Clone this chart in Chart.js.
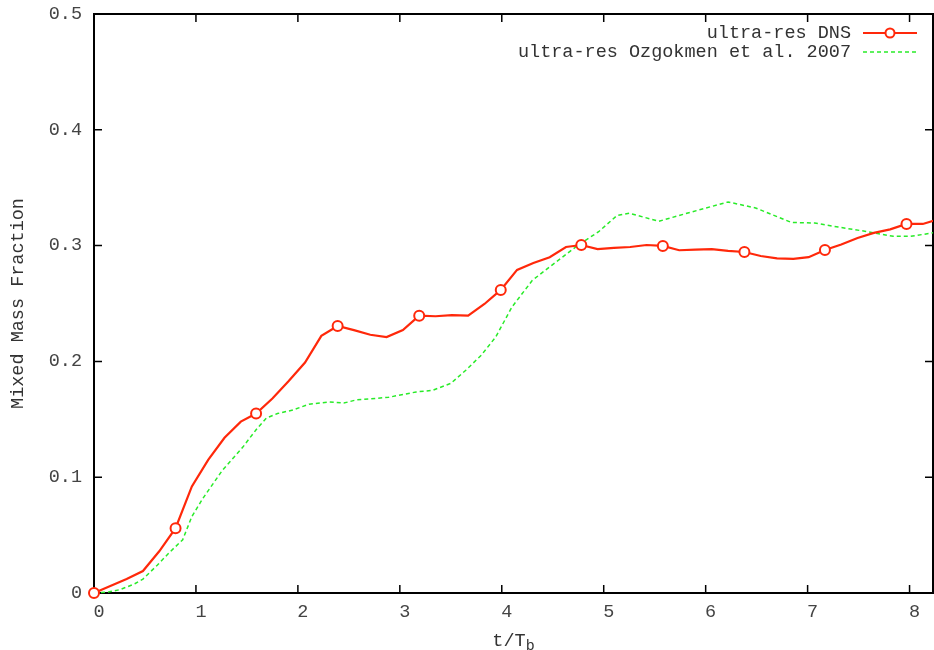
<!DOCTYPE html>
<html><head><meta charset="utf-8">
<script src="https://cdn.jsdelivr.net/npm/chart.js@4.4.0/dist/chart.umd.min.js"></script>
<style>
html,body{margin:0;padding:0;background:#fff;overflow:hidden;width:934px;height:650px}
#wrap{width:940px;height:650px}
canvas{display:block}
</style></head>
<body><div id="wrap"><canvas id="c" width="940" height="650"></canvas></div>
<script>
// ---- data ----
const dnsT = [0,0.16,0.32,0.48,0.64,0.80,0.96,1.12,1.28,1.44,1.59,1.75,1.91,2.07,2.23,2.39,2.55,2.71,2.87,3.03,3.19,3.35,3.51,3.67,3.83,3.99,4.15,4.31,4.47,4.63,4.78,4.94,5.10,5.26,5.42,5.58,5.74,5.90,6.06,6.22,6.38,6.54,6.70,6.86,7.01,7.17,7.33,7.49,7.65,7.81,7.97,8.13,8.29];
const dnsV = [0,0.006,0.012,0.019,0.036,0.056,0.092,0.115,0.134,0.148,0.155,0.168,0.183,0.199,0.222,0.2306,0.227,0.223,0.221,0.227,0.2395,0.239,0.240,0.2395,0.2496,0.2617,0.279,0.285,0.290,0.2988,0.3005,0.297,0.298,0.2988,0.3005,0.2997,0.296,0.2965,0.297,0.2955,0.2945,0.291,0.289,0.2885,0.290,0.2962,0.301,0.3066,0.311,0.314,0.3187,0.3187,0.323];
const ozgT = [0,0.15,0.26,0.40,0.48,0.62,0.74,0.87,0.96,1.07,1.26,1.46,1.59,1.69,1.80,1.95,2.11,2.31,2.45,2.57,2.89,3.16,3.32,3.50,3.65,3.80,3.94,4.10,4.30,4.49,4.75,4.95,5.13,5.25,5.54,5.86,6.22,6.49,6.84,7.07,7.30,7.59,7.84,8.01,8.23];
const ozgV = [0,0.001,0.003,0.008,0.012,0.024,0.035,0.046,0.066,0.082,0.106,0.126,0.141,0.151,0.155,0.158,0.163,0.165,0.164,0.1667,0.169,0.1736,0.175,0.181,0.1926,0.2055,0.221,0.247,0.270,0.283,0.3005,0.312,0.326,0.328,0.321,0.329,0.3377,0.3325,0.320,0.3195,0.316,0.312,0.308,0.308,0.311];
const xTicks = [0,1,2,3,4,5,6,7,8];
const yTicks = [0,0.1,0.2,0.3,0.4,0.5];
const seriesNames = ['ultra-res DNS','ultra-res Ozgokmen et al. 2007'];
const yTitle = 'Mixed Mass Fraction';
const xTitleMain = 't/T';
const xTitleSub = 'b';

const RED = 'rgb(255,40,10)';
const GREEN = 'rgb(40,235,40)';
const FONT = '"Liberation Mono", "DejaVu Sans Mono", monospace';

const toXY = (t, v) => t.map((x, i) => ({x: x, y: v[i]}));
const noPad = s => { s.paddingTop = 0; s.paddingBottom = 0; s.paddingLeft = 0; s.paddingRight = 0; };

const framePlugin = {
  id: 'frame',
  beforeDatasetsDraw(chart) {
    const {ctx, chartArea: a, scales: {x, y}} = chart;
    ctx.save();
    ctx.strokeStyle = '#000';
    ctx.lineWidth = 2;
    ctx.strokeRect(a.left, a.top, a.right - a.left, a.bottom - a.top);
    ctx.lineWidth = 1.5;
    ctx.beginPath();
    xTicks.forEach(v => {
      const px = x.getPixelForValue(v);
      ctx.moveTo(px, a.bottom); ctx.lineTo(px, a.bottom - 8);
      ctx.moveTo(px, a.top); ctx.lineTo(px, a.top + 8);
    });
    yTicks.forEach(v => {
      const py = y.getPixelForValue(v);
      ctx.moveTo(a.left, py); ctx.lineTo(a.left + 8, py);
      ctx.moveTo(a.right, py); ctx.lineTo(a.right - 8, py);
    });
    ctx.stroke();
    ctx.restore();
  },
  afterDraw(chart) {
    const {ctx, chartArea: a} = chart;
    ctx.save();
    // x title with subscript
    ctx.fillStyle = '#333';
    ctx.font = '18.5px ' + FONT;
    const w1 = ctx.measureText(xTitleMain).width;
    ctx.font = '15px ' + FONT;
    const w2 = ctx.measureText(xTitleSub).width;
    const cx = (a.left + a.right) / 2;
    const sx = cx - (w1 + w2) / 2;
    ctx.textAlign = 'left';
    ctx.textBaseline = 'alphabetic';
    ctx.font = '18.5px ' + FONT;
    ctx.fillText(xTitleMain, sx, 646);
    ctx.font = '15px ' + FONT;
    ctx.fillText(xTitleSub, sx + w1, 650);
    // legend
    ctx.font = '18.5px ' + FONT;
    ctx.textAlign = 'right';
    ctx.textBaseline = 'middle';
    ctx.fillText(seriesNames[0], 851, 33);
    ctx.fillText(seriesNames[1], 851, 52);
    ctx.strokeStyle = RED; ctx.lineWidth = 2.2;
    ctx.beginPath(); ctx.moveTo(863, 33); ctx.lineTo(917, 33); ctx.stroke();
    ctx.fillStyle = '#fff'; ctx.lineWidth = 2;
    ctx.beginPath(); ctx.arc(890, 33, 4.5, 0, Math.PI * 2); ctx.fill(); ctx.stroke();
    ctx.strokeStyle = GREEN; ctx.lineWidth = 1.5; ctx.setLineDash([4, 3]);
    ctx.beginPath(); ctx.moveTo(863, 52); ctx.lineTo(917, 52); ctx.stroke();
    ctx.restore();
  }
};

new Chart(document.getElementById('c'), {
  type: 'line',
  data: {
    datasets: [
      {
        label: seriesNames[0],
        data: toXY(dnsT, dnsV),
        borderColor: RED,
        borderWidth: 2.2,
        pointRadius: c => (c.dataIndex % 5 === 0 ? 5 : 0),
        pointHoverRadius: 0,
        pointBorderColor: RED,
        pointBackgroundColor: '#fff',
        pointBorderWidth: 2,
        tension: 0,
        clip: {left: 8, bottom: 8, top: 0, right: 0},
        order: 1
      },
      {
        label: seriesNames[1],
        data: toXY(ozgT, ozgV),
        borderColor: GREEN,
        borderWidth: 1.5,
        borderDash: [4, 3],
        pointRadius: 0,
        tension: 0,
        clip: {left: 4, bottom: 4, top: 0, right: 0},
        order: 2
      }
    ]
  },
  options: {
    responsive: false,
    animation: false,
    devicePixelRatio: 1,
    layout: {padding: {top: 14, right: 1, left: 0, bottom: 0}},
    plugins: {legend: {display: false}, tooltip: {enabled: false}},
    events: [],
    scales: {
      x: {
        type: 'linear',
        min: 0, max: 8.23,
        afterBuildTicks: s => { s.ticks = xTicks.map(v => ({value: v})); },
        afterFit: s => { s.height = 57; noPad(s); },
        grid: {display: false, drawTicks: false},
        border: {display: false},
        ticks: {
          font: {family: FONT, size: 18.5},
          color: '#444',
          labelOffset: 5,
          padding: 8,
          maxRotation: 0,
          autoSkip: false,
          callback: v => String(v)
        }
      },
      y: {
        type: 'linear',
        min: 0, max: 0.5,
        afterBuildTicks: s => { s.ticks = yTicks.map(v => ({value: v})); },
        afterFit: s => { s.width = 94; noPad(s); },
        grid: {display: false, drawTicks: false},
        border: {display: false},
        ticks: {
          font: {family: FONT, size: 18.5},
          color: '#444',
          padding: 12,
          callback: v => (v === 0 ? '0' : v.toFixed(1))
        },
        title: {
          display: true,
          text: yTitle,
          font: {family: FONT, size: 18.5},
          color: '#333',
          padding: {top: 7, bottom: 0}
        }
      }
    }
  },
  plugins: [framePlugin]
});
</script>
</body></html>
